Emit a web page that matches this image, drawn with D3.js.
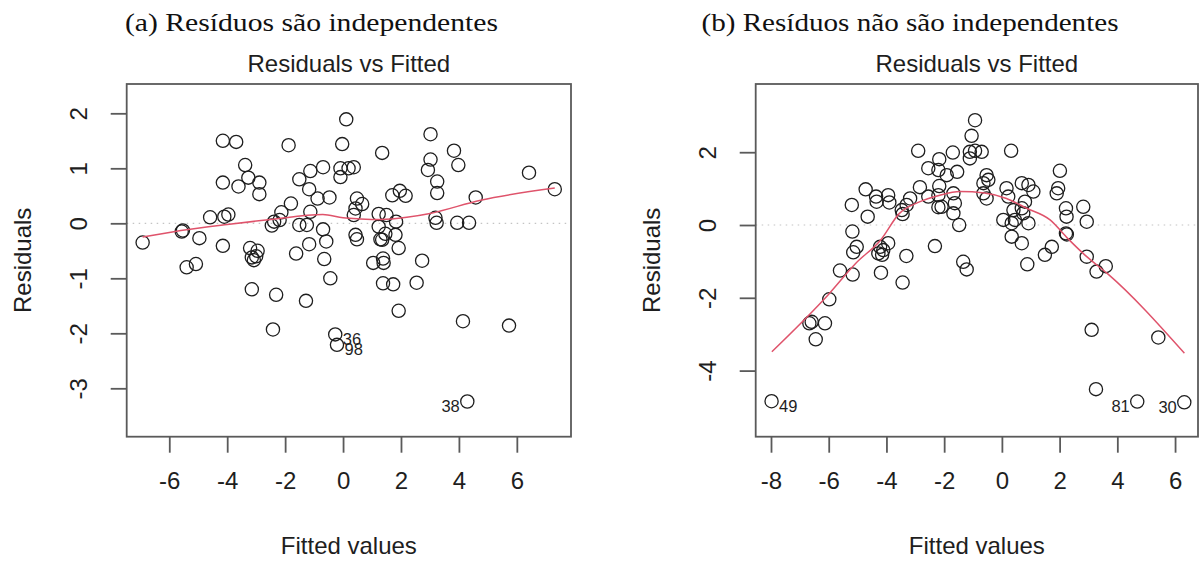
<!DOCTYPE html>
<html>
<head>
<meta charset="utf-8">
<script src="https://cdn.jsdelivr.net/npm/d3@7"></script>
<style>
  body { margin: 0; background: #fff; }
  svg { display: block; }
</style>
</head>
<body>
<svg id="chart" width="1203" height="563"></svg>
<script>
// ---- Panel captions and labels ----
const captionA = "(a) Resíduos são independentes";
const captionB = "(b) Resíduos não são independentes";
const plotTitle = "Residuals vs Fitted";
const xTitle = "Fitted values";
const yTitle = "Residuals";

// ---- Panel (a): fitted values vs residuals ----
const pointsA = [
  [-6.92,-0.35],[-5.57,-0.15],[-5.53,-0.13],[-4.96,-0.27],[-4.59,0.11],[-4.15,1.50],[-3.69,1.48],
  [-4.15,0.74],[-4.10,0.12],[-3.96,0.16],[-3.38,1.06],[-3.27,0.83],[-3.61,0.67],[-2.89,0.74],
  [-2.89,0.53],[-4.15,-0.41],[-3.21,-0.45],[-2.95,-0.50],[-3.15,-0.62],[-3.08,-0.67],[-3.00,-0.60],
  [-5.40,-0.80],[-5.08,-0.74],[-3.15,-1.20],[-2.31,-1.30],[-1.28,-1.41],[-2.42,-1.93],[-1.88,1.42],
  [-2.46,-0.04],[-2.38,0.03],[-2.19,0.06],[-2.13,0.20],[-1.80,0.36],[-1.51,0.80],[-1.13,0.95],
  [-1.17,0.62],[-0.88,0.45],[-0.69,1.02],[-0.47,0.47],[-1.13,0.21],[-1.51,-0.03],[-1.25,-0.03],
  [-0.69,-0.11],[-0.58,-0.33],[-1.17,-0.38],[-1.62,-0.55],[-0.65,-0.65],[-0.44,-1.00],[0.11,1.89],
  [-0.03,1.44],[-0.09,1.00],[0.19,1.00],[0.37,1.02],[-0.09,0.84],[0.48,0.45],[0.66,0.35],
  [0.43,0.27],[0.37,0.15],[0.43,-0.21],[0.48,-0.29],[1.35,1.28],[3.02,1.62],[3.02,1.16],
  [2.93,0.97],[3.83,1.32],[3.98,1.06],[6.42,0.92],[7.31,0.62],[4.58,0.47],[3.25,0.76],
  [3.25,0.55],[3.19,0.10],[3.23,0.01],[3.94,0.01],[4.35,0.01],[1.70,0.51],[1.96,0.59],
  [2.16,0.50],[1.23,0.17],[1.50,0.15],[1.23,-0.06],[1.83,0.03],[1.46,-0.19],[1.81,-0.21],
  [1.29,-0.29],[1.35,-0.30],[1.92,-0.45],[1.04,-0.72],[1.38,-0.64],[1.40,-0.72],[2.73,-0.68],
  [1.38,-1.09],[1.73,-1.11],[2.54,-1.08],[1.92,-1.59],[4.14,-1.78],[5.73,-1.86],[-0.27,-2.02],
  [-0.21,-2.21],[4.29,-3.24]
];
const smoothA = [
  [-6.92,-0.25],[-5.6,-0.13],[-4.0,-0.02],[-2.5,0.07],[-0.7,0.16],[0.0,0.10],[0.6,0.08],
  [1.3,0.07],[2.2,0.11],[3.0,0.18],[4.75,0.42],[7.31,0.64]
];
const idsA = [
  { id: "36", x: -0.27, y: -2.02, side: "right" },
  { id: "98", x: -0.21, y: -2.21, side: "right" },
  { id: "38", x: 4.29, y: -3.24, side: "left" }
];
const xTicksA = [-6, -4, -2, 0, 2, 4, 6];
const yTicksA = [-3, -2, -1, 0, 1, 2];
const xDomainA = [-7.47, 7.87];
const yDomainA = [-3.88, 2.533];

// ---- Panel (b): fitted values vs residuals ----
const pointsB = [
  [-7.98,-4.84],[-6.59,-2.66],[-6.67,-2.70],[-6.13,-2.70],[-6.45,-3.14],[-5.98,-2.04],[-5.61,-1.25],
  [-5.17,-1.36],[-5.03,-0.60],[-5.15,-0.75],[-5.18,-0.18],[-5.20,0.55],[-4.72,0.98],[-4.65,0.23],
  [-4.36,0.78],[-4.34,0.64],[-3.94,0.82],[-3.90,0.62],[-4.19,-1.31],[-4.22,-0.60],[-3.94,-0.50],
  [-4.28,-0.78],[-4.11,-0.69],[-4.15,-0.82],[-3.44,-1.58],[-3.31,-0.85],[-3.18,0.73],[-3.30,0.55],
  [-3.47,0.41],[-3.44,0.30],[-2.90,2.04],[-2.84,1.04],[-2.55,1.56],[-2.55,0.78],[-2.32,-0.58],
  [-2.20,1.51],[-2.20,0.82],[-2.20,0.49],[-2.17,1.81],[-2.17,1.07],[-2.09,0.50],[-1.91,1.37],
  [-1.70,1.99],[-1.68,0.87],[-1.63,0.60],[-1.68,0.32],[-1.55,1.46],[-1.48,0.00],[-1.34,-1.01],
  [-1.22,-1.22],[-1.11,2.01],[-1.11,1.83],[-1.05,2.45],[-0.93,2.88],[-0.93,2.04],[-0.70,2.01],
  [-0.53,1.37],[-0.47,1.24],[-0.64,1.15],[-0.53,0.73],[-0.64,0.87],[0.32,2.04],[0.16,1.01],
  [0.22,0.78],[0.69,1.15],[0.92,1.10],[1.09,0.92],[0.80,0.64],[0.69,0.46],[0.40,0.41],
  [0.74,0.32],[0.45,0.14],[0.34,0.05],[0.05,0.14],[0.92,0.05],[0.34,-0.32],[0.69,-0.50],
  [0.88,-1.08],[1.73,-0.60],[1.49,-0.82],[2.01,1.49],[1.95,1.01],[1.90,0.87],[2.22,0.46],
  [2.24,0.23],[2.82,0.50],[2.94,0.09],[2.22,-0.23],[2.25,-0.26],[2.94,-0.87],[3.28,-1.28],
  [3.60,-1.13],[3.11,-2.88],[5.42,-3.09],[3.26,-4.51],[4.69,-4.85],[6.32,-4.87]
];
const smoothB = [
  [-7.97,-3.48],[-6.0,-1.90],[-5.06,-1.05],[-4.2,-0.41],[-3.55,0.32],[-2.9,0.62],[-2.15,0.82],
  [-1.45,0.92],[-0.6,0.88],[0.16,0.73],[0.86,0.46],[1.67,0.14],[2.27,-0.36],[2.94,-0.87],
  [3.65,-1.33],[6.32,-3.52]
];
const idsB = [
  { id: "49", x: -7.98, y: -4.84, side: "right" },
  { id: "81", x: 4.69, y: -4.85, side: "left" },
  { id: "30", x: 6.32, y: -4.87, side: "left" }
];
const xTicksB = [-8, -6, -4, -2, 0, 2, 4, 6];
const yTicksB = [-4, -2, 0, 2];
const xDomainB = [-8.53, 6.795];
const yDomainB = [-5.816, 3.874];

// ---- Drawing ----
const svg = d3.select("#chart");
const SANS = "'Liberation Sans', Arial, Helvetica, sans-serif";
const SERIF = "'Liberation Serif', 'Times New Roman', serif";
const INK = "#1e1e1e";
const FRAME = "#5a5a5a";

const panels = [
  { caption: captionA, captionX: 311.5, captionLen: 373,
    left: 126.7, right: 571, top: 84, bottom: 436.7,
    points: pointsA, smooth: smoothA, ids: idsA,
    xTicks: xTicksA, yTicks: yTicksA, xDomain: xDomainA, yDomain: yDomainA },
  { caption: captionB, captionX: 910, captionLen: 417,
    left: 755.7, right: 1198, top: 84, bottom: 436.7,
    points: pointsB, smooth: smoothB, ids: idsB,
    xTicks: xTicksB, yTicks: yTicksB, xDomain: xDomainB, yDomain: yDomainB }
];

panels.forEach(p => {
  const g = svg.append("g");
  const x = d3.scaleLinear().domain(p.xDomain).range([p.left, p.right]);
  const y = d3.scaleLinear().domain(p.yDomain).range([p.bottom, p.top]);
  const cx = (p.left + p.right) / 2;
  const cy = (p.top + p.bottom) / 2;

  // sub-figure caption
  g.append("text")
    .attr("x", p.captionX).attr("y", 30.5)
    .attr("text-anchor", "middle")
    .attr("textLength", p.captionLen)
    .attr("lengthAdjust", "spacingAndGlyphs")
    .style("font-family", SERIF).style("font-size", "25px").style("fill", "#111")
    .text(p.caption);

  // plot title
  g.append("text")
    .attr("x", cx).attr("y", 72)
    .attr("text-anchor", "middle")
    .style("font-family", SANS).style("font-size", "24px").style("fill", INK)
    .text(plotTitle);

  // dotted zero reference line
  g.append("line")
    .attr("x1", p.left).attr("x2", p.right)
    .attr("y1", y(0)).attr("y2", y(0))
    .attr("stroke", "#c4c4c4").attr("stroke-width", 1.2)
    .attr("stroke-dasharray", "1.5,4.5");

  // observations
  g.append("g").selectAll("circle")
    .data(p.points).join("circle")
    .attr("cx", d => x(d[0])).attr("cy", d => y(d[1]))
    .attr("r", 6.6)
    .attr("fill", "none").attr("stroke", INK).attr("stroke-width", 1.3);

  // lowess smoother
  g.append("path")
    .datum(p.smooth)
    .attr("d", d3.line().x(d => x(d[0])).y(d => y(d[1])).curve(d3.curveMonotoneX))
    .attr("fill", "none").attr("stroke", "#DF536B").attr("stroke-width", 1.5);

  // labelled extreme observations
  g.append("g").selectAll("text")
    .data(p.ids).join("text")
    .attr("x", d => x(d.x) + (d.side === "right" ? 7.5 : -7.5))
    .attr("y", d => y(d.y) + 10.5)
    .attr("text-anchor", d => d.side === "right" ? "start" : "end")
    .style("font-family", SANS).style("font-size", "16.5px").style("fill", INK)
    .text(d => d.id);

  // plot frame
  g.append("rect")
    .attr("x", p.left).attr("y", p.top)
    .attr("width", p.right - p.left).attr("height", p.bottom - p.top)
    .attr("fill", "none").attr("stroke", FRAME).attr("stroke-width", 1.8);

  // x axis
  const xAxis = g.append("g")
    .attr("transform", `translate(0,${p.bottom})`)
    .call(d3.axisBottom(x).tickValues(p.xTicks).tickSize(16).tickSizeOuter(0)
      .tickFormat(d => d3.format("d")(d).replace("−", "-")));
  xAxis.select(".domain").remove();
  xAxis.selectAll(".tick line").attr("stroke", FRAME).attr("stroke-width", 1.8);
  xAxis.selectAll(".tick text")
    .attr("y", 52).attr("dy", null)
    .style("font-family", SANS).style("font-size", "24px").style("fill", INK);

  // y axis with labels parallel to the axis
  const yAxis = g.append("g")
    .attr("transform", `translate(${p.left},0)`)
    .call(d3.axisLeft(y).tickValues(p.yTicks).tickSize(16).tickSizeOuter(0)
      .tickFormat(d => d3.format("d")(d).replace("−", "-")));
  yAxis.select(".domain").remove();
  yAxis.selectAll(".tick line").attr("stroke", FRAME).attr("stroke-width", 1.8);
  yAxis.selectAll(".tick text")
    .attr("x", null).attr("y", null).attr("dy", null)
    .attr("text-anchor", "middle")
    .attr("transform", "translate(-40,0) rotate(-90)")
    .style("font-family", SANS).style("font-size", "24px").style("fill", INK);

  // axis titles
  g.append("text")
    .attr("x", cx).attr("y", 554)
    .attr("text-anchor", "middle")
    .style("font-family", SANS).style("font-size", "24px").style("fill", INK)
    .text(xTitle);
  g.append("text")
    .attr("transform", `translate(${p.left - 96},${cy}) rotate(-90)`)
    .attr("text-anchor", "middle")
    .style("font-family", SANS).style("font-size", "24px").style("fill", INK)
    .text(yTitle);
});
</script>
</body>
</html>
